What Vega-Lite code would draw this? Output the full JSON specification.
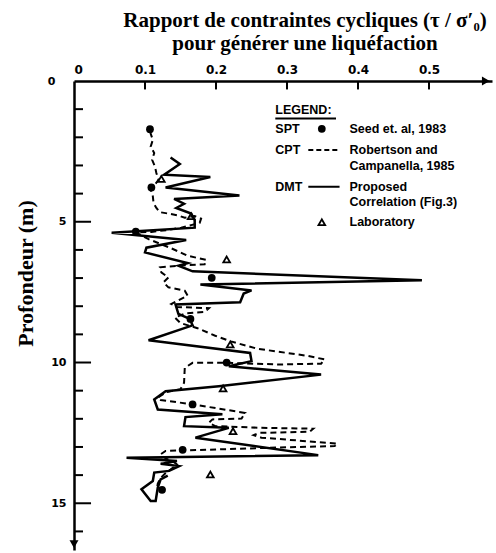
{
  "$schema": "https://vega.github.io/schema/vega-lite/v6.json",
  "autosize": {"type": "none"},
  "padding": {"left": 74, "top": 81, "right": 4, "bottom": 3},
  "width": 418,
  "height": 469,
  "background": "white",
  "config": {"view": {"stroke": null}},
  "title": {
    "text": ["Rapport de contraintes cycliques (τ / σ′₀)", "pour générer une liquéfaction"],
    "font": "Liberation Serif", "fontSize": 21, "fontWeight": "bold", "color": "black",
    "anchor": "middle", "dx": 22, "offset": 9, "lineHeight": 23
  },
  "datasets": {
    "dmt": [
      {"i":1,"x":0.136,"d":2.72},{"i":2,"x":0.149,"d":2.95},{"i":3,"x":0.127,"d":3.33},{"i":4,"x":0.192,"d":3.41},
      {"i":5,"x":0.129,"d":3.78},{"i":6,"x":0.233,"d":4.07},{"i":7,"x":0.141,"d":4.19},{"i":8,"x":0.155,"d":4.36},
      {"i":9,"x":0.144,"d":4.51},{"i":10,"x":0.165,"d":4.71},{"i":11,"x":0.17,"d":4.95},{"i":12,"x":0.17,"d":5.21},
      {"i":13,"x":0.053,"d":5.39},{"i":14,"x":0.158,"d":5.65},{"i":15,"x":0.102,"d":5.92},{"i":16,"x":0.1,"d":6.09},
      {"i":17,"x":0.16,"d":6.47},{"i":18,"x":0.147,"d":6.56},{"i":19,"x":0.167,"d":6.76},{"i":20,"x":0.49,"d":7.08},
      {"i":21,"x":0.178,"d":7.23},{"i":22,"x":0.25,"d":7.44},{"i":23,"x":0.239,"d":7.55},{"i":24,"x":0.234,"d":7.86},
      {"i":25,"x":0.143,"d":7.94},{"i":26,"x":0.147,"d":8.27},{"i":27,"x":0.163,"d":8.45},{"i":28,"x":0.167,"d":8.68},
      {"i":29,"x":0.105,"d":9.21},{"i":30,"x":0.248,"d":9.66},{"i":31,"x":0.25,"d":9.95},{"i":32,"x":0.218,"d":10.13},
      {"i":33,"x":0.348,"d":10.43},{"i":34,"x":0.204,"d":10.84},{"i":35,"x":0.129,"d":11.02},{"i":36,"x":0.113,"d":11.31},
      {"i":37,"x":0.118,"d":11.67},{"i":38,"x":0.209,"d":11.84},{"i":39,"x":0.157,"d":11.94},{"i":40,"x":0.155,"d":12.26},
      {"i":41,"x":0.218,"d":12.32},{"i":42,"x":0.171,"d":12.67},{"i":43,"x":0.344,"d":13.29},{"i":44,"x":0.074,"d":13.38},
      {"i":45,"x":0.145,"d":13.5},{"i":46,"x":0.122,"d":13.6},{"i":47,"x":0.148,"d":13.68},{"i":48,"x":0.134,"d":13.85},
      {"i":49,"x":0.113,"d":13.91},{"i":50,"x":0.111,"d":14.21},{"i":51,"x":0.095,"d":14.5},{"i":52,"x":0.108,"d":14.92},
      {"i":53,"x":0.115,"d":14.92},{"i":54,"x":0.118,"d":14.44},{"i":55,"x":0.122,"d":14.15},{"i":56,"x":0.132,"d":14.02}
    ],
    "cpt": [
      {"i":1,"x":0.107,"d":1.8},{"i":2,"x":0.111,"d":2.09},{"i":3,"x":0.108,"d":2.33},{"i":4,"x":0.113,"d":2.56},
      {"i":5,"x":0.11,"d":2.8},{"i":6,"x":0.114,"d":3.04},{"i":7,"x":0.116,"d":3.27},{"i":8,"x":0.119,"d":3.51},
      {"i":9,"x":0.114,"d":3.68},{"i":10,"x":0.108,"d":3.86},{"i":11,"x":0.111,"d":4.09},{"i":12,"x":0.112,"d":4.33},
      {"i":13,"x":0.116,"d":4.51},{"i":14,"x":0.121,"d":4.66},{"i":15,"x":0.133,"d":4.71},{"i":16,"x":0.147,"d":4.78},
      {"i":17,"x":0.156,"d":4.86},{"i":18,"x":0.17,"d":4.8},{"i":19,"x":0.179,"d":4.89},{"i":20,"x":0.177,"d":5.04},
      {"i":21,"x":0.165,"d":5.12},{"i":22,"x":0.151,"d":5.21},{"i":23,"x":0.133,"d":5.29},{"i":24,"x":0.109,"d":5.36},
      {"i":25,"x":0.087,"d":5.38},{"i":26,"x":0.105,"d":5.62},{"i":27,"x":0.135,"d":5.92},{"i":28,"x":0.16,"d":6.21},
      {"i":29,"x":0.186,"d":6.35},{"i":30,"x":0.184,"d":6.51},{"i":31,"x":0.147,"d":6.56},{"i":32,"x":0.121,"d":6.62},
      {"i":33,"x":0.123,"d":6.8},{"i":34,"x":0.133,"d":6.98},{"i":35,"x":0.126,"d":7.15},{"i":36,"x":0.133,"d":7.33},
      {"i":37,"x":0.156,"d":7.45},{"i":38,"x":0.16,"d":7.62},{"i":39,"x":0.137,"d":7.92},{"i":40,"x":0.145,"d":8.03},
      {"i":41,"x":0.19,"d":8.07},{"i":42,"x":0.184,"d":8.2},{"i":43,"x":0.158,"d":8.25},{"i":44,"x":0.142,"d":8.4},
      {"i":45,"x":0.15,"d":8.6},{"i":46,"x":0.174,"d":8.78},{"i":47,"x":0.198,"d":9.04},{"i":48,"x":0.221,"d":9.25},
      {"i":49,"x":0.258,"d":9.51},{"i":50,"x":0.328,"d":9.76},{"i":51,"x":0.353,"d":9.89},{"i":52,"x":0.348,"d":10.04},
      {"i":53,"x":0.288,"d":10.07},{"i":54,"x":0.215,"d":10.01},{"i":55,"x":0.167,"d":10.01},{"i":56,"x":0.156,"d":10.19},
      {"i":57,"x":0.155,"d":10.72},{"i":58,"x":0.15,"d":10.95},{"i":59,"x":0.13,"d":11.05},{"i":60,"x":0.118,"d":11.25},
      {"i":61,"x":0.122,"d":11.33},{"i":62,"x":0.168,"d":11.49},{"i":63,"x":0.241,"d":11.79},{"i":64,"x":0.236,"d":11.99},
      {"i":65,"x":0.195,"d":12.02},{"i":66,"x":0.19,"d":12.14},{"i":67,"x":0.199,"d":12.26},{"i":68,"x":0.264,"d":12.32},
      {"i":69,"x":0.337,"d":12.35},{"i":70,"x":0.332,"d":12.46},{"i":71,"x":0.26,"d":12.5},{"i":72,"x":0.253,"d":12.58},
      {"i":73,"x":0.264,"d":12.67},{"i":74,"x":0.371,"d":12.88},{"i":75,"x":0.367,"d":12.97},{"i":76,"x":0.288,"d":13.02},
      {"i":77,"x":0.162,"d":13.12},{"i":78,"x":0.153,"d":13.12},{"i":79,"x":0.129,"d":13.14},{"i":80,"x":0.122,"d":13.26},
      {"i":81,"x":0.13,"d":13.42},{"i":82,"x":0.14,"d":13.52},{"i":83,"x":0.145,"d":13.62},{"i":84,"x":0.136,"d":13.8},
      {"i":85,"x":0.128,"d":13.95},{"i":86,"x":0.122,"d":14.1},{"i":87,"x":0.118,"d":14.3},{"i":88,"x":0.117,"d":14.45}
    ],
    "spt": [
      {"x":0.107,"d":1.71},{"x":0.109,"d":3.78},{"x":0.087,"d":5.35},{"x":0.194,"d":6.99},{"x":0.164,"d":8.45},
      {"x":0.215,"d":10.0},{"x":0.167,"d":11.49},{"x":0.153,"d":13.1},{"x":0.124,"d":14.52},{"x":0.349,"d":1.7}
    ],
    "lab": [
      {"x":0.123,"d":3.48},{"x":0.165,"d":4.8},{"x":0.215,"d":6.34},{"x":0.22,"d":9.36},{"x":0.21,"d":10.92},
      {"x":0.224,"d":12.44},{"x":0.192,"d":13.98},{"x":0.349,"d":5.02}
    ],
    "arrows": [
      {"x":0.58,"d":0,"shape":"triangle-right"},{"x":0,"d":16.45,"shape":"triangle-down"}
    ],
    "yticks": [
      {"d":1,"x":0,"x2":0.0127},{"d":2,"x":0,"x2":0.0127},{"d":3,"x":0,"x2":0.0127},{"d":4,"x":0,"x2":0.0127},
      {"d":5,"x":0,"x2":0.024},{"d":6,"x":0,"x2":0.0127},{"d":7,"x":0,"x2":0.0127},{"d":8,"x":0,"x2":0.0127},
      {"d":9,"x":0,"x2":0.0127},{"d":10,"x":0,"x2":0.024},{"d":11,"x":0,"x2":0.0127},{"d":12,"x":0,"x2":0.0127},
      {"d":13,"x":0,"x2":0.0127},{"d":14,"x":0,"x2":0.0127},{"d":15,"x":0,"x2":0.024},{"d":16,"x":0,"x2":0.0127}
    ],
    "xticks": [
      {"x":0.1,"d":0,"d2":0.3},{"x":0.2,"d":0,"d2":0.3},{"x":0.3,"d":0,"d2":0.3},{"x":0.4,"d":0,"d2":0.3},{"x":0.5,"d":0,"d2":0.3}
    ],
    "legendText": [
      {"x":0.2835,"d":1.03,"t":"LEGEND:"},
      {"x":0.2835,"d":1.7,"t":"SPT"},{"x":0.388,"d":1.7,"t":"Seed et. al, 1983"},
      {"x":0.2835,"d":2.45,"t":"CPT"},{"x":0.388,"d":2.45,"t":"Robertson and"},{"x":0.388,"d":3.02,"t":"Campanella, 1985"},
      {"x":0.2835,"d":3.76,"t":"DMT"},{"x":0.388,"d":3.76,"t":"Proposed"},{"x":0.388,"d":4.3,"t":"Correlation (Fig.3)"},
      {"x":0.388,"d":5.02,"t":"Laboratory"}
    ],
    "legendLines": [
      {"x":0.2835,"x2":0.369,"d":1.33,"k":"solid"},
      {"x":0.33,"x2":0.374,"d":2.45,"k":"dash"},
      {"x":0.33,"x2":0.374,"d":3.76,"k":"solid"}
    ]
  },
  "encoding": {
    "x": {
      "field": "x", "type": "quantitative",
      "scale": {"domain": [0, 0.5887], "nice": false, "zero": false},
      "axis": {
        "orient": "top", "title": null, "values": [0, 0.1, 0.2, 0.3, 0.4, 0.5],
        "labelExpr": "datum.value === 0 ? '0' : format(datum.value, '.1f')",
        "labelFont": "DejaVu Sans", "labelFontSize": 12, "labelFontWeight": "bold", "labelColor": "black",
        "ticks": false, "labelPadding": 5,
        "domainWidth": 2.5, "domainColor": "black", "grid": false
      }
    },
    "y": {
      "field": "d", "type": "quantitative",
      "scale": {"domain": [0, 16.66], "nice": false, "zero": false, "reverse": true},
      "axis": {
        "orient": "left", "values": [0, 5, 10, 15],
        "format": "d",
        "labelFont": "DejaVu Sans", "labelFontSize": 11, "labelFontWeight": "bold", "labelColor": "black",
        "ticks": false,
        "labelPadding": {"condition": {"test": "datum.value === 0", "value": 19}, "value": 8},
        "domainWidth": 2.5, "domainColor": "black", "grid": false,
        "title": "Profondeur (m)", "titleFont": "Liberation Serif", "titleFontSize": 22, "titleFontWeight": "bold",
        "titleColor": "black", "titleX": -49, "titleY": 192, "titleAngle": 270, "titleAlign": "center", "titleBaseline": "middle"
      }
    }
  },
  "layer": [
    {
      "data": {"name": "yticks"},
      "mark": {"type": "rule", "color": "black", "strokeWidth": 2},
      "encoding": {"x2": {"field": "x2"}}
    },
    {
      "data": {"name": "xticks"},
      "mark": {"type": "rule", "color": "black", "strokeWidth": 2},
      "encoding": {"y2": {"field": "d2"}}
    },
    {
      "data": {"name": "cpt"},
      "mark": {"type": "line", "color": "black", "strokeWidth": 2, "strokeDash": [6, 4]},
      "encoding": {"order": {"field": "i", "type": "quantitative"}}
    },
    {
      "data": {"name": "dmt"},
      "mark": {"type": "line", "color": "black", "strokeWidth": 2.5},
      "encoding": {"order": {"field": "i", "type": "quantitative"}}
    },
    {
      "data": {"name": "spt"},
      "mark": {"type": "point", "shape": "circle", "filled": true, "color": "black", "size": 60, "opacity": 1}
    },
    {
      "data": {"name": "lab"},
      "mark": {"type": "point", "shape": "triangle-up", "filled": false, "color": "black", "strokeWidth": 1.8, "size": 45, "opacity": 1}
    },
    {
      "data": {"name": "arrows"},
      "mark": {"type": "point", "filled": true, "color": "black", "size": 80, "opacity": 1},
      "encoding": {"shape": {"field": "shape", "type": "nominal", "scale": null, "legend": null}}
    },
    {
      "data": {"name": "legendText"},
      "mark": {"type": "text", "align": "left", "baseline": "middle", "font": "Liberation Sans", "fontSize": 12.5, "fontWeight": "bold", "color": "black"},
      "encoding": {"text": {"field": "t", "type": "nominal"}}
    },
    {
      "data": {"name": "legendLines"},
      "mark": {"type": "rule", "color": "black", "strokeWidth": 2},
      "encoding": {
        "x2": {"field": "x2"},
        "strokeDash": {"field": "k", "type": "nominal", "scale": {"domain": ["solid", "dash"], "range": [[1, 0], [5, 3]]}, "legend": null}
      }
    }
  ]
}
